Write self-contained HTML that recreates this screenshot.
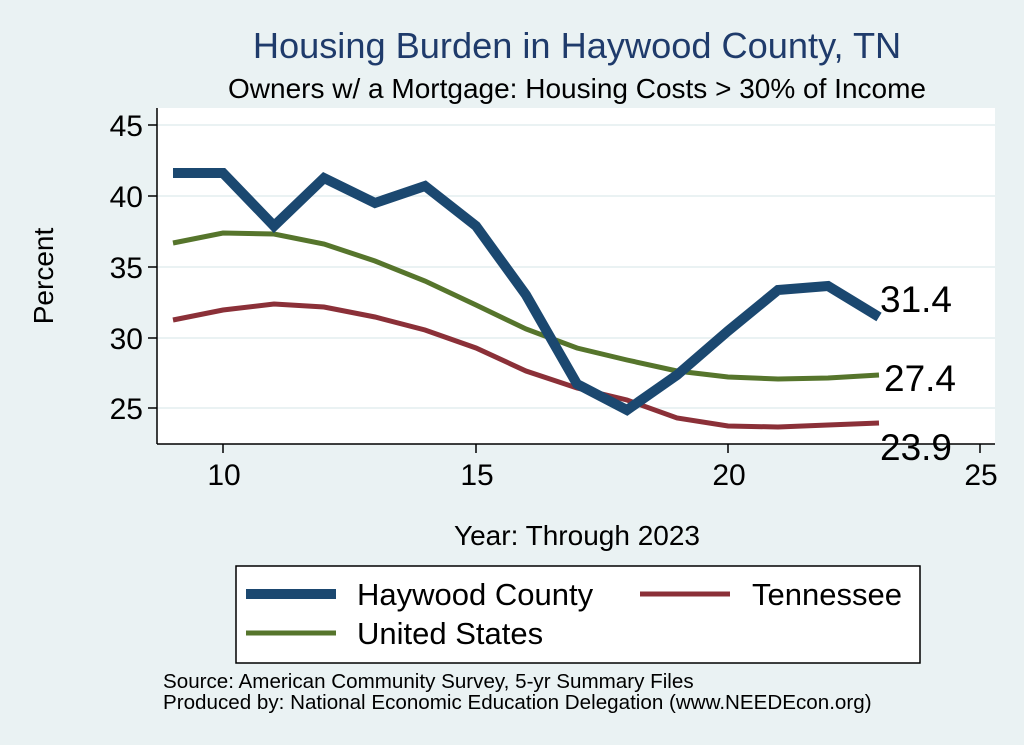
<!DOCTYPE html>
<html><head><meta charset="utf-8"><style>
body{margin:0;background:#eaf2f3;}
svg{display:block;font-family:"Liberation Sans",Arial,sans-serif;}
</style></head><body>
<svg width="1024" height="745" viewBox="0 0 1024 745">
<rect width="1024" height="745" fill="#eaf2f3"/>
<rect x="157" y="108" width="838" height="336" fill="#fff"/>
<g stroke="#eaf2f3" stroke-width="2">
<line x1="157" x2="995" y1="125" y2="125"/>
<line x1="157" x2="995" y1="196" y2="196"/>
<line x1="157" x2="995" y1="267" y2="267"/>
<line x1="157" x2="995" y1="338" y2="338"/>
<line x1="157" x2="995" y1="408" y2="408"/>
</g>
<g stroke="#000" stroke-width="1.5">
<line x1="157" y1="108" x2="157" y2="444"/>
<line x1="157" y1="444" x2="995" y2="444"/>
<line x1="148" x2="157" y1="125" y2="125"/>
<line x1="148" x2="157" y1="196" y2="196"/>
<line x1="148" x2="157" y1="267" y2="267"/>
<line x1="148" x2="157" y1="338" y2="338"/>
<line x1="148" x2="157" y1="408" y2="408"/>
<line y1="444" y2="453" x1="223" x2="223"/>
<line y1="444" y2="453" x1="476" x2="476"/>
<line y1="444" y2="453" x1="728" x2="728"/>
<line y1="444" y2="453" x1="980" x2="980"/>
</g>
<g font-size="30" fill="#000" text-anchor="end">
<text x="143" y="136">45</text><text x="143" y="207">40</text><text x="143" y="278">35</text><text x="143" y="349">30</text><text x="143" y="419">25</text>
</g>
<g font-size="30" fill="#000" text-anchor="middle">
<text x="224" y="485">10</text><text x="477" y="485">15</text><text x="729" y="485">20</text><text x="981" y="485">25</text>
</g>
<text x="577" y="58" font-size="36.2" fill="#1f3b6b" text-anchor="middle">Housing Burden in Haywood County, TN</text>
<text x="577" y="98" font-size="28" fill="#000" text-anchor="middle">Owners w/ a Mortgage: Housing Costs &gt; 30% of Income</text>
<text transform="translate(53,276) rotate(-90)" font-size="28" text-anchor="middle">Percent</text>
<text x="577" y="545" font-size="28" text-anchor="middle">Year: Through 2023</text>
<g fill="none" stroke-linejoin="miter">
<polyline stroke="#8b3038" stroke-width="5" points="173,320 223,310 274,304 324,307 375,317 425,330 476,348 526,371 577,388 627,400 677,418 728,426 778,427 828,425 879,423"/>
<polyline stroke="#56752c" stroke-width="5" points="173,243 223,233 274,234 324,244 375,261 425,281 476,305 526,329 577,348 627,360 677,371 728,377 778,379 828,378 879,375"/>
<polyline stroke="#1b4870" stroke-width="10" points="173,173 223,173 274,226 324,178 375,203 425,186 476,226 526,295 577,384 627,410 677,375 728,331 778,290 828,286 879,317"/>
</g>
<g font-size="37" fill="#000">
<text x="880" y="312">31.4</text><text x="884" y="391">27.4</text><text x="880" y="460">23.9</text>
</g>
<rect x="236" y="566" width="684" height="97" fill="#fff" stroke="#000" stroke-width="1.5"/>
<line x1="246" x2="336" y1="594" y2="594" stroke="#1b4870" stroke-width="10"/>
<text x="357" y="605" font-size="31">Haywood County</text>
<line x1="640" x2="730" y1="594" y2="594" stroke="#8b3038" stroke-width="5"/>
<text x="752" y="605" font-size="31">Tennessee</text>
<line x1="246" x2="336" y1="633" y2="633" stroke="#56752c" stroke-width="5"/>
<text x="357" y="644" font-size="31">United States</text>
<text x="163" y="688" font-size="20.6">Source: American Community Survey, 5-yr Summary Files</text>
<text x="163" y="709" font-size="20.6">Produced by: National Economic Education Delegation (www.NEEDEcon.org)</text>
</svg>
</body></html>
